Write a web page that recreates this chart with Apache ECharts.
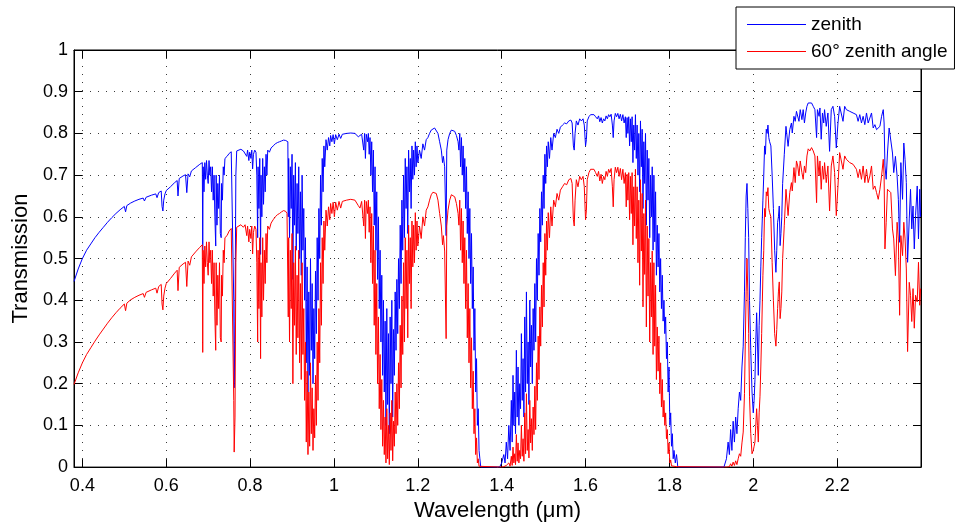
<!DOCTYPE html>
<html>
<head>
<meta charset="utf-8">
<script src="https://cdn.jsdelivr.net/npm/echarts@6/dist/echarts.min.js"></script>
<style>
html,body{margin:0;padding:0;background:#fff;}
#chart{width:955px;height:527px;}
</style>
</head>
<body>
<div id="chart"></div>
<script>
// Wavelength (µm)
const wavelength = [
0.380,0.390,0.400,0.410,0.420,0.430,0.440,0.450,0.460,0.470,0.480,0.490,0.500,0.503,0.506,0.515,0.525,0.535,0.545,0.548,0.552,0.565,0.575,0.578,0.582,0.588,0.590,0.592,0.594,0.597,0.600,0.610,0.620,0.626,0.628,0.631,0.640,0.646,0.649,0.652,0.656,0.660,0.670,0.680,0.686,
0.687,0.688,0.690,0.692,0.694,0.696,0.698,0.700,0.702,0.704,0.706,0.708,0.710,0.712,0.714,0.716,0.718,0.719,0.721,0.723,0.725,0.727,0.729,0.731,0.732,0.734,0.736,0.738,0.740,0.745,0.750,0.755,0.759,0.761,0.762,0.764,0.766,0.768,
0.772,0.778,0.784,0.788,0.792,0.794,0.797,0.799,0.802,0.804,0.806,0.808,0.811,0.814,0.816,0.818,0.819,0.821,0.823,0.825,0.826,0.828,0.830,0.832,0.834,0.836,0.838,0.840,0.842,0.846,0.850,0.855,0.860,0.865,0.870,0.875,0.880,0.885,0.888,
0.890,0.891,0.892,0.894,0.896,0.898,0.900,0.902,0.904,0.906,0.908,0.910,0.912,0.914,0.916,0.918,0.920,0.922,0.924,0.926,0.928,0.930,0.932,0.934,0.936,0.938,0.940,0.942,0.944,0.946,0.948,0.950,0.952,0.954,0.956,0.958,0.960,0.962,0.964,0.966,0.968,0.970,0.972,0.974,0.976,0.978,0.981,0.984,
0.987,0.990,0.992,0.995,0.998,1.001,1.004,1.008,1.012,1.016,1.020,1.030,1.040,1.050,1.058,1.062,1.066,1.069,1.071,1.073,1.075,1.077,1.080,1.082,1.084,1.086,
1.088,1.090,1.092,1.094,1.096,1.098,1.100,1.102,1.104,1.106,1.108,1.110,1.112,1.114,1.116,1.118,1.120,1.122,1.124,1.126,1.128,1.130,1.132,1.134,1.136,1.138,1.140,1.142,1.144,1.146,1.148,1.150,1.152,1.154,1.156,1.158,1.160,1.162,1.164,1.166,1.168,1.170,1.172,1.174,1.176,1.178,1.180,1.182,1.184,1.186,1.188,1.190,1.192,1.194,1.196,1.198,1.200,
1.204,1.208,1.212,1.216,1.220,1.224,1.228,1.232,1.236,1.240,1.244,1.248,1.252,1.256,1.259,1.261,1.264,1.2675,1.269,1.272,1.276,1.280,1.284,1.288,1.292,1.296,
1.298,1.300,1.302,1.304,1.306,1.308,1.310,1.312,1.314,1.316,1.318,1.320,1.322,1.324,1.326,1.328,1.330,1.332,1.334,1.336,1.338,1.340,1.342,1.344,1.346,1.348,1.350,1.395,
1.400,1.405,1.408,1.411,1.414,1.417,1.420,1.423,1.425,1.427,1.429,1.431,1.433,1.435,1.437,1.439,1.441,1.443,1.445,1.447,1.449,1.451,1.453,1.455,1.457,1.459,1.461,1.463,1.465,1.467,1.469,1.471,1.473,1.475,1.477,1.479,1.481,1.483,1.485,1.487,1.489,1.491,1.493,1.495,1.497,1.499,1.501,1.503,1.505,1.507,1.509,1.511,1.514,1.517,1.520,
1.524,1.528,1.532,1.536,1.540,1.545,1.550,1.555,1.560,1.565,1.568,1.571,1.573,1.575,1.578,1.582,1.586,1.590,1.594,1.597,1.600,1.602,1.604,1.608,1.612,1.616,1.620,1.624,1.628,1.631,1.634,1.637,1.640,1.643,1.646,1.649,1.652,1.655,1.658,1.661,1.664,1.666,1.668,1.671,1.674,1.677,1.680,1.683,1.686,1.689,1.692,1.695,1.697,1.699,1.701,1.703,1.705,1.707,1.709,1.711,1.713,1.715,1.717,1.719,1.721,
1.723,1.725,1.727,1.729,1.731,1.733,1.735,1.737,1.739,1.741,1.743,1.745,1.747,1.749,1.751,1.753,1.755,1.757,1.759,1.761,1.763,1.765,1.767,1.769,1.771,1.773,1.775,1.777,1.779,1.781,1.783,1.785,1.787,1.789,1.791,1.793,1.795,1.797,1.799,1.801,1.803,1.805,1.807,1.809,1.811,1.814,1.817,1.820,1.930,
1.936,1.940,1.943,1.946,1.949,1.952,1.955,1.958,1.961,1.964,1.967,1.970,1.973,1.976,1.979,1.981,1.983,1.985,1.987,1.989,1.991,1.994,1.997,2.000,2.002,2.004,2.006,2.008,2.010,2.012,2.014,2.016,2.018,2.020,2.023,2.025,2.027,2.029,2.031,2.033,2.035,2.037,2.039,2.042,2.045,2.048,2.051,2.054,2.056,2.058,2.060,2.062,2.064,2.066,2.068,2.070,2.074,2.078,
2.083,2.087,2.091,2.093,2.097,2.100,2.103,2.106,2.109,2.112,2.116,2.119,2.122,2.125,2.128,2.131,2.135,2.139,2.143,2.147,2.151,2.153,2.157,2.159,2.162,2.165,2.168,2.170,2.174,2.178,2.182,2.186,2.190,2.194,2.198,2.202,2.206,2.210,2.214,2.218,2.222,2.226,2.230,2.234,2.238,2.242,2.246,2.250,2.254,2.258,2.262,2.266,2.270,2.274,2.278,2.282,2.286,2.290,2.294,2.298,2.302,2.306,2.310,2.312,2.314,2.317,2.320,2.324,2.328,2.332,2.335,2.339,2.343,2.346,2.349,2.352,2.356,2.359,2.362,2.365,2.368,2.372,2.375,2.378,2.381,2.384,2.387,2.391,2.394,2.397,2.399
];

// Transmission looking straight up (zenith)
const zenith = [
0.445,0.475,0.500,0.520,0.535,0.550,0.563,0.575,0.587,0.598,0.608,0.617,0.625,0.612,0.627,0.633,0.638,0.642,0.645,0.638,0.647,0.652,0.655,0.646,0.658,0.662,0.625,0.614,0.640,0.655,0.663,0.672,0.682,0.687,0.650,0.692,0.698,0.701,0.658,0.703,0.696,0.710,0.718,0.726,0.730,
0.52,0.72,0.66,0.73,0.69,0.735,0.70,0.68,0.735,0.70,0.72,0.66,0.72,0.64,0.70,0.60,0.53,0.70,0.58,0.68,0.62,0.70,0.56,0.55,0.68,0.64,0.72,0.70,0.74,0.745,0.752,0.756,0.758,0.40,0.19,0.35,0.70,0.758,
0.760,0.762,0.758,0.762,0.745,0.760,0.735,0.755,0.740,0.760,0.715,0.750,0.760,0.755,0.70,0.55,0.72,0.62,0.74,0.51,0.70,0.60,0.74,0.63,0.72,0.66,0.75,0.70,0.76,0.755,0.765,0.770,0.775,0.778,0.780,0.782,0.784,0.783,0.780,
0.78,0.60,0.74,0.55,0.72,0.62,0.75,0.45,0.70,0.58,0.73,0.52,0.68,0.56,0.72,0.50,0.66,0.46,0.70,0.52,0.62,0.40,0.55,0.25,0.48,0.18,0.42,0.22,0.50,0.28,0.44,0.20,0.38,0.26,0.47,0.32,0.55,0.40,0.62,0.50,0.70,0.58,0.74,0.66,0.77,0.72,0.785,0.76,
0.79,0.77,0.795,0.78,0.797,0.775,0.797,0.785,0.798,0.788,0.798,0.800,0.801,0.800,0.792,0.788,0.798,0.80,0.76,0.80,0.74,0.798,0.78,0.80,0.75,0.79,
0.70,0.78,0.66,0.76,0.58,0.72,0.52,0.66,0.45,0.60,0.38,0.52,0.30,0.46,0.22,0.40,0.18,0.35,0.10,0.38,0.15,0.32,0.08,0.36,0.20,0.40,0.12,0.33,0.22,0.42,0.28,0.45,0.32,0.50,0.38,0.58,0.44,0.64,0.52,0.70,0.55,0.74,0.62,0.72,0.56,0.76,0.66,0.74,0.62,0.77,0.69,0.76,0.70,0.78,0.72,0.77,0.73,
0.76,0.74,0.775,0.76,0.785,0.79,0.80,0.808,0.812,0.813,0.81,0.80,0.78,0.76,0.73,0.745,0.72,0.555,0.76,0.785,0.80,0.808,0.81,0.805,0.795,0.78,
0.76,0.80,0.72,0.79,0.70,0.77,0.66,0.74,0.62,0.72,0.56,0.66,0.50,0.62,0.44,0.56,0.38,0.48,0.28,0.38,0.18,0.26,0.10,0.14,0.04,0.02,0.0,0.0,
0.01,0.03,0.01,0.06,0.02,0.10,0.04,0.16,0.06,0.22,0.10,0.18,0.08,0.28,0.12,0.24,0.10,0.20,0.14,0.32,0.16,0.26,0.12,0.36,0.18,0.42,0.20,0.30,0.15,0.40,0.24,0.34,0.20,0.38,0.28,0.44,0.30,0.50,0.40,0.56,0.46,0.62,0.54,0.66,0.58,0.70,0.62,0.75,0.68,0.77,0.72,0.78,0.74,0.79,0.76,
0.80,0.79,0.81,0.80,0.815,0.82,0.825,0.823,0.83,0.832,0.825,0.77,0.76,0.80,0.83,0.82,0.835,0.83,0.835,0.82,0.77,0.785,0.83,0.84,0.845,0.846,0.845,0.84,0.835,0.842,0.828,0.838,0.825,0.835,0.83,0.842,0.835,0.845,0.84,0.846,0.82,0.79,0.83,0.848,0.84,0.848,0.835,0.846,0.83,0.845,0.825,0.84,0.79,0.838,0.80,0.84,0.77,0.835,0.78,0.84,0.73,0.82,0.76,0.845,0.74,
0.82,0.70,0.80,0.66,0.83,0.72,0.81,0.62,0.78,0.68,0.80,0.58,0.76,0.64,0.74,0.55,0.70,0.60,0.72,0.52,0.70,0.54,0.66,0.46,0.58,0.48,0.56,0.42,0.50,0.38,0.46,0.35,0.40,0.32,0.36,0.26,0.30,0.18,0.24,0.10,0.13,0.05,0.08,0.02,0.04,0.01,0.03,0.0,0.0,
0.02,0.06,0.03,0.09,0.04,0.11,0.06,0.12,0.08,0.14,0.18,0.16,0.24,0.29,0.42,0.55,0.65,0.68,0.62,0.55,0.40,0.28,0.18,0.13,0.16,0.21,0.30,0.37,0.30,0.22,0.34,0.40,0.48,0.55,0.64,0.70,0.77,0.75,0.81,0.80,0.82,0.79,0.78,0.77,0.70,0.62,0.52,0.467,0.52,0.587,0.60,0.626,0.531,0.56,0.60,0.68,0.75,0.817,
0.769,0.809,0.825,0.801,0.841,0.829,0.853,0.849,0.829,0.857,0.833,0.857,0.825,0.849,0.865,0.873,0.869,0.873,0.865,0.857,0.790,0.857,0.841,0.861,0.786,0.849,0.825,0.857,0.817,0.849,0.757,0.857,0.865,0.841,0.765,0.825,0.865,0.869,0.829,0.865,0.857,0.861,0.853,0.857,0.849,0.853,0.845,0.829,0.845,0.825,0.841,0.821,0.849,0.825,0.837,0.849,0.813,0.821,0.809,0.805,0.817,0.841,0.857,0.825,0.722,0.690,0.753,0.813,0.809,0.753,0.706,0.745,0.698,0.642,0.539,0.730,0.642,0.777,0.737,0.682,0.491,0.595,0.666,0.571,0.626,0.523,0.603,0.674,0.547,0.666,0.600
];

// Transmission along a 60° zenith angle
const zenith60 = [
0.198,0.226,0.250,0.270,0.286,0.302,0.317,0.331,0.345,0.358,0.370,0.381,0.391,0.375,0.393,0.401,0.407,0.412,0.416,0.407,0.419,0.425,0.429,0.417,0.433,0.438,0.391,0.377,0.410,0.429,0.440,0.452,0.465,0.472,0.423,0.479,0.487,0.491,0.433,0.494,0.484,0.504,0.516,0.527,0.533,
0.275,0.52,0.44,0.53,0.48,0.54,0.49,0.46,0.54,0.49,0.52,0.44,0.52,0.41,0.49,0.36,0.28,0.49,0.34,0.46,0.38,0.49,0.31,0.30,0.46,0.41,0.52,0.49,0.55,0.555,0.566,0.572,0.575,0.16,0.036,0.12,0.49,0.575,
0.578,0.581,0.575,0.581,0.555,0.578,0.540,0.570,0.548,0.578,0.511,0.563,0.578,0.570,0.49,0.30,0.52,0.38,0.55,0.26,0.49,0.36,0.55,0.40,0.52,0.44,0.56,0.49,0.578,0.570,0.585,0.593,0.600,0.605,0.608,0.612,0.615,0.613,0.608,
0.608,0.36,0.55,0.30,0.52,0.38,0.56,0.20,0.49,0.34,0.53,0.27,0.46,0.31,0.52,0.25,0.44,0.21,0.49,0.27,0.38,0.16,0.30,0.06,0.23,0.03,0.18,0.05,0.25,0.08,0.19,0.04,0.14,0.07,0.22,0.10,0.30,0.16,0.38,0.25,0.49,0.34,0.55,0.44,0.59,0.52,0.616,0.578,
0.624,0.593,0.632,0.608,0.635,0.600,0.635,0.616,0.637,0.621,0.637,0.640,0.642,0.640,0.627,0.621,0.637,0.64,0.578,0.64,0.548,0.637,0.608,0.64,0.563,0.624,
0.49,0.608,0.44,0.578,0.34,0.52,0.27,0.44,0.20,0.36,0.14,0.27,0.09,0.21,0.05,0.16,0.03,0.12,0.01,0.14,0.02,0.10,0.006,0.13,0.04,0.16,0.015,0.11,0.05,0.18,0.08,0.20,0.10,0.25,0.14,0.34,0.19,0.41,0.27,0.49,0.30,0.55,0.38,0.52,0.31,0.58,0.44,0.55,0.38,0.59,0.48,0.58,0.49,0.61,0.52,0.59,0.53,
0.578,0.548,0.60,0.578,0.616,0.624,0.64,0.653,0.659,0.661,0.656,0.64,0.608,0.578,0.533,0.555,0.518,0.308,0.578,0.616,0.64,0.653,0.656,0.648,0.632,0.608,
0.58,0.64,0.52,0.62,0.49,0.59,0.44,0.55,0.38,0.52,0.31,0.44,0.25,0.38,0.19,0.31,0.14,0.23,0.08,0.14,0.03,0.07,0.01,0.02,0.002,0.0,0.0,0.0,
0.0,0.001,0.0,0.004,0.0,0.01,0.002,0.026,0.004,0.048,0.01,0.032,0.006,0.078,0.014,0.058,0.01,0.04,0.02,0.10,0.026,0.068,0.014,0.13,0.032,0.176,0.04,0.09,0.022,0.16,0.058,0.116,0.04,0.144,0.078,0.194,0.09,0.25,0.16,0.314,0.21,0.384,0.29,0.436,0.336,0.49,0.384,0.56,0.46,0.59,0.52,0.61,0.55,0.624,0.578,
0.64,0.624,0.656,0.64,0.664,0.672,0.68,0.677,0.689,0.692,0.68,0.593,0.578,0.64,0.689,0.672,0.697,0.689,0.697,0.672,0.593,0.616,0.689,0.706,0.714,0.716,0.714,0.706,0.697,0.709,0.686,0.702,0.68,0.697,0.689,0.709,0.697,0.714,0.706,0.716,0.672,0.624,0.689,0.719,0.706,0.719,0.697,0.716,0.689,0.714,0.68,0.706,0.624,0.702,0.64,0.706,0.593,0.697,0.608,0.706,0.533,0.672,0.578,0.714,0.548,
0.672,0.49,0.64,0.436,0.689,0.518,0.656,0.384,0.608,0.462,0.64,0.336,0.578,0.41,0.548,0.30,0.49,0.36,0.518,0.27,0.49,0.29,0.436,0.21,0.336,0.23,0.314,0.176,0.25,0.144,0.21,0.12,0.16,0.10,0.13,0.068,0.09,0.032,0.058,0.01,0.017,0.003,0.006,0.0,0.002,0.0,0.001,0.0,0.0,
0.0,0.004,0.001,0.008,0.002,0.012,0.004,0.015,0.006,0.02,0.032,0.026,0.058,0.084,0.176,0.30,0.42,0.50,0.42,0.32,0.17,0.08,0.032,0.04,0.05,0.06,0.10,0.14,0.10,0.06,0.13,0.17,0.24,0.32,0.46,0.52,0.62,0.60,0.66,0.65,0.67,0.62,0.61,0.60,0.49,0.40,0.32,0.29,0.33,0.38,0.42,0.444,0.356,0.38,0.42,0.50,0.58,0.666,
0.603,0.658,0.682,0.662,0.718,0.682,0.734,0.722,0.698,0.734,0.706,0.690,0.722,0.706,0.746,0.763,0.758,0.766,0.758,0.746,0.634,0.746,0.698,0.734,0.666,0.722,0.690,0.730,0.682,0.722,0.614,0.722,0.746,0.706,0.603,0.674,0.754,0.754,0.714,0.746,0.738,0.742,0.730,0.734,0.726,0.730,0.714,0.694,0.714,0.690,0.722,0.682,0.714,0.682,0.698,0.722,0.666,0.674,0.658,0.642,0.666,0.698,0.738,0.698,0.523,0.587,0.666,0.666,0.658,0.571,0.547,0.459,0.587,0.547,0.364,0.555,0.507,0.587,0.547,0.475,0.277,0.443,0.412,0.349,0.428,0.333,0.412,0.396,0.491,0.388,0.428
];

const xTicks = [0.4, 0.6, 0.8, 1, 1.2, 1.4, 1.6, 1.8, 2, 2.2];
const seriesNames = ['zenith', '60\u00b0 zenith angle'];

const FONT = '"Liberation Sans", Arial, Helvetica, sans-serif';
const pairs = (ys) => wavelength.map((w, i) => [w, ys[i]]);

const gridLine = { show: true, lineStyle: { color: '#3a3a3a', width: 1, type: [1, 7] } };
const tickIn = (custom) => {
  const t = { show: true, inside: true, length: 8, lineStyle: { color: '#000', width: 1 } };
  if (custom) t.customValues = custom;
  return t;
};
const axisLine = { show: true, onZero: false, lineStyle: { color: '#000', width: 1 } };

const chart = echarts.init(document.getElementById('chart'), null, { renderer: 'canvas' });
chart.setOption({
  animation: false,
  backgroundColor: '#fff',
  textStyle: { fontFamily: FONT },
  grid: { left: 74, right: 34, top: 50, bottom: 58, containLabel: false, show: true, borderColor: '#000', borderWidth: 1, backgroundColor: 'transparent' },
  legend: {
    orient: 'vertical', left: 736, top: 7,
    padding: [8, 7, 8, 11],
    itemWidth: 59, itemHeight: 1, itemGap: 8,
    backgroundColor: '#fff', borderColor: '#000', borderWidth: 1, borderRadius: 0,
    textStyle: { fontSize: 19, color: '#000', fontFamily: FONT },
    data: [
      { name: seriesNames[0], icon: 'rect', itemStyle: { color: '#0000ff' } },
      { name: seriesNames[1], icon: 'rect', itemStyle: { color: '#ff0000' } }
    ]
  },
  xAxis: [
    {
      type: 'value', min: 0.38, max: 2.4, position: 'bottom',
      name: 'Wavelength (\u03bcm)', nameLocation: 'middle', nameGap: 31,
      nameTextStyle: { fontSize: 22, color: '#000', fontFamily: FONT },
      axisLine: axisLine, axisTick: tickIn(xTicks),
      axisLabel: { customValues: xTicks, fontSize: 18, color: '#000', margin: 10, fontFamily: FONT, formatter: (v) => String(+v.toFixed(2)) },
      splitLine: Object.assign({ customValues: xTicks }, gridLine)
    },
    {
      type: 'value', min: 0.38, max: 2.4, position: 'top',
      axisLine: axisLine, axisTick: tickIn(xTicks),
      axisLabel: { show: false }, splitLine: { show: false }
    }
  ],
  yAxis: [
    {
      type: 'value', min: 0, max: 1, interval: 0.1, position: 'left',
      name: 'Transmission', nameLocation: 'middle', nameGap: 39,
      nameTextStyle: { fontSize: 22, color: '#000', fontFamily: FONT },
      axisLine: axisLine, axisTick: tickIn(null),
      axisLabel: { fontSize: 18, color: '#000', margin: 6, fontFamily: FONT, formatter: (v) => String(+v.toFixed(2)) },
      splitLine: gridLine
    },
    {
      type: 'value', min: 0, max: 1, interval: 0.1, position: 'right',
      axisLine: axisLine, axisTick: tickIn(null),
      axisLabel: { show: false }, splitLine: { show: false }
    }
  ],
  series: [
    {
      name: seriesNames[0], type: 'line', data: pairs(zenith),
      xAxisIndex: 0, yAxisIndex: 0,
      symbol: 'none', showSymbol: false, sampling: null, smooth: false,
      lineStyle: { color: '#0000ff', width: 1 }, itemStyle: { color: '#0000ff' },
      emphasis: { disabled: true }, z: 2
    },
    {
      name: seriesNames[1], type: 'line', data: pairs(zenith60),
      xAxisIndex: 0, yAxisIndex: 0,
      symbol: 'none', showSymbol: false, sampling: null, smooth: false,
      lineStyle: { color: '#ff0000', width: 1 }, itemStyle: { color: '#ff0000' },
      emphasis: { disabled: true }, z: 3
    }
  ]
});
</script>
</body>
</html>
